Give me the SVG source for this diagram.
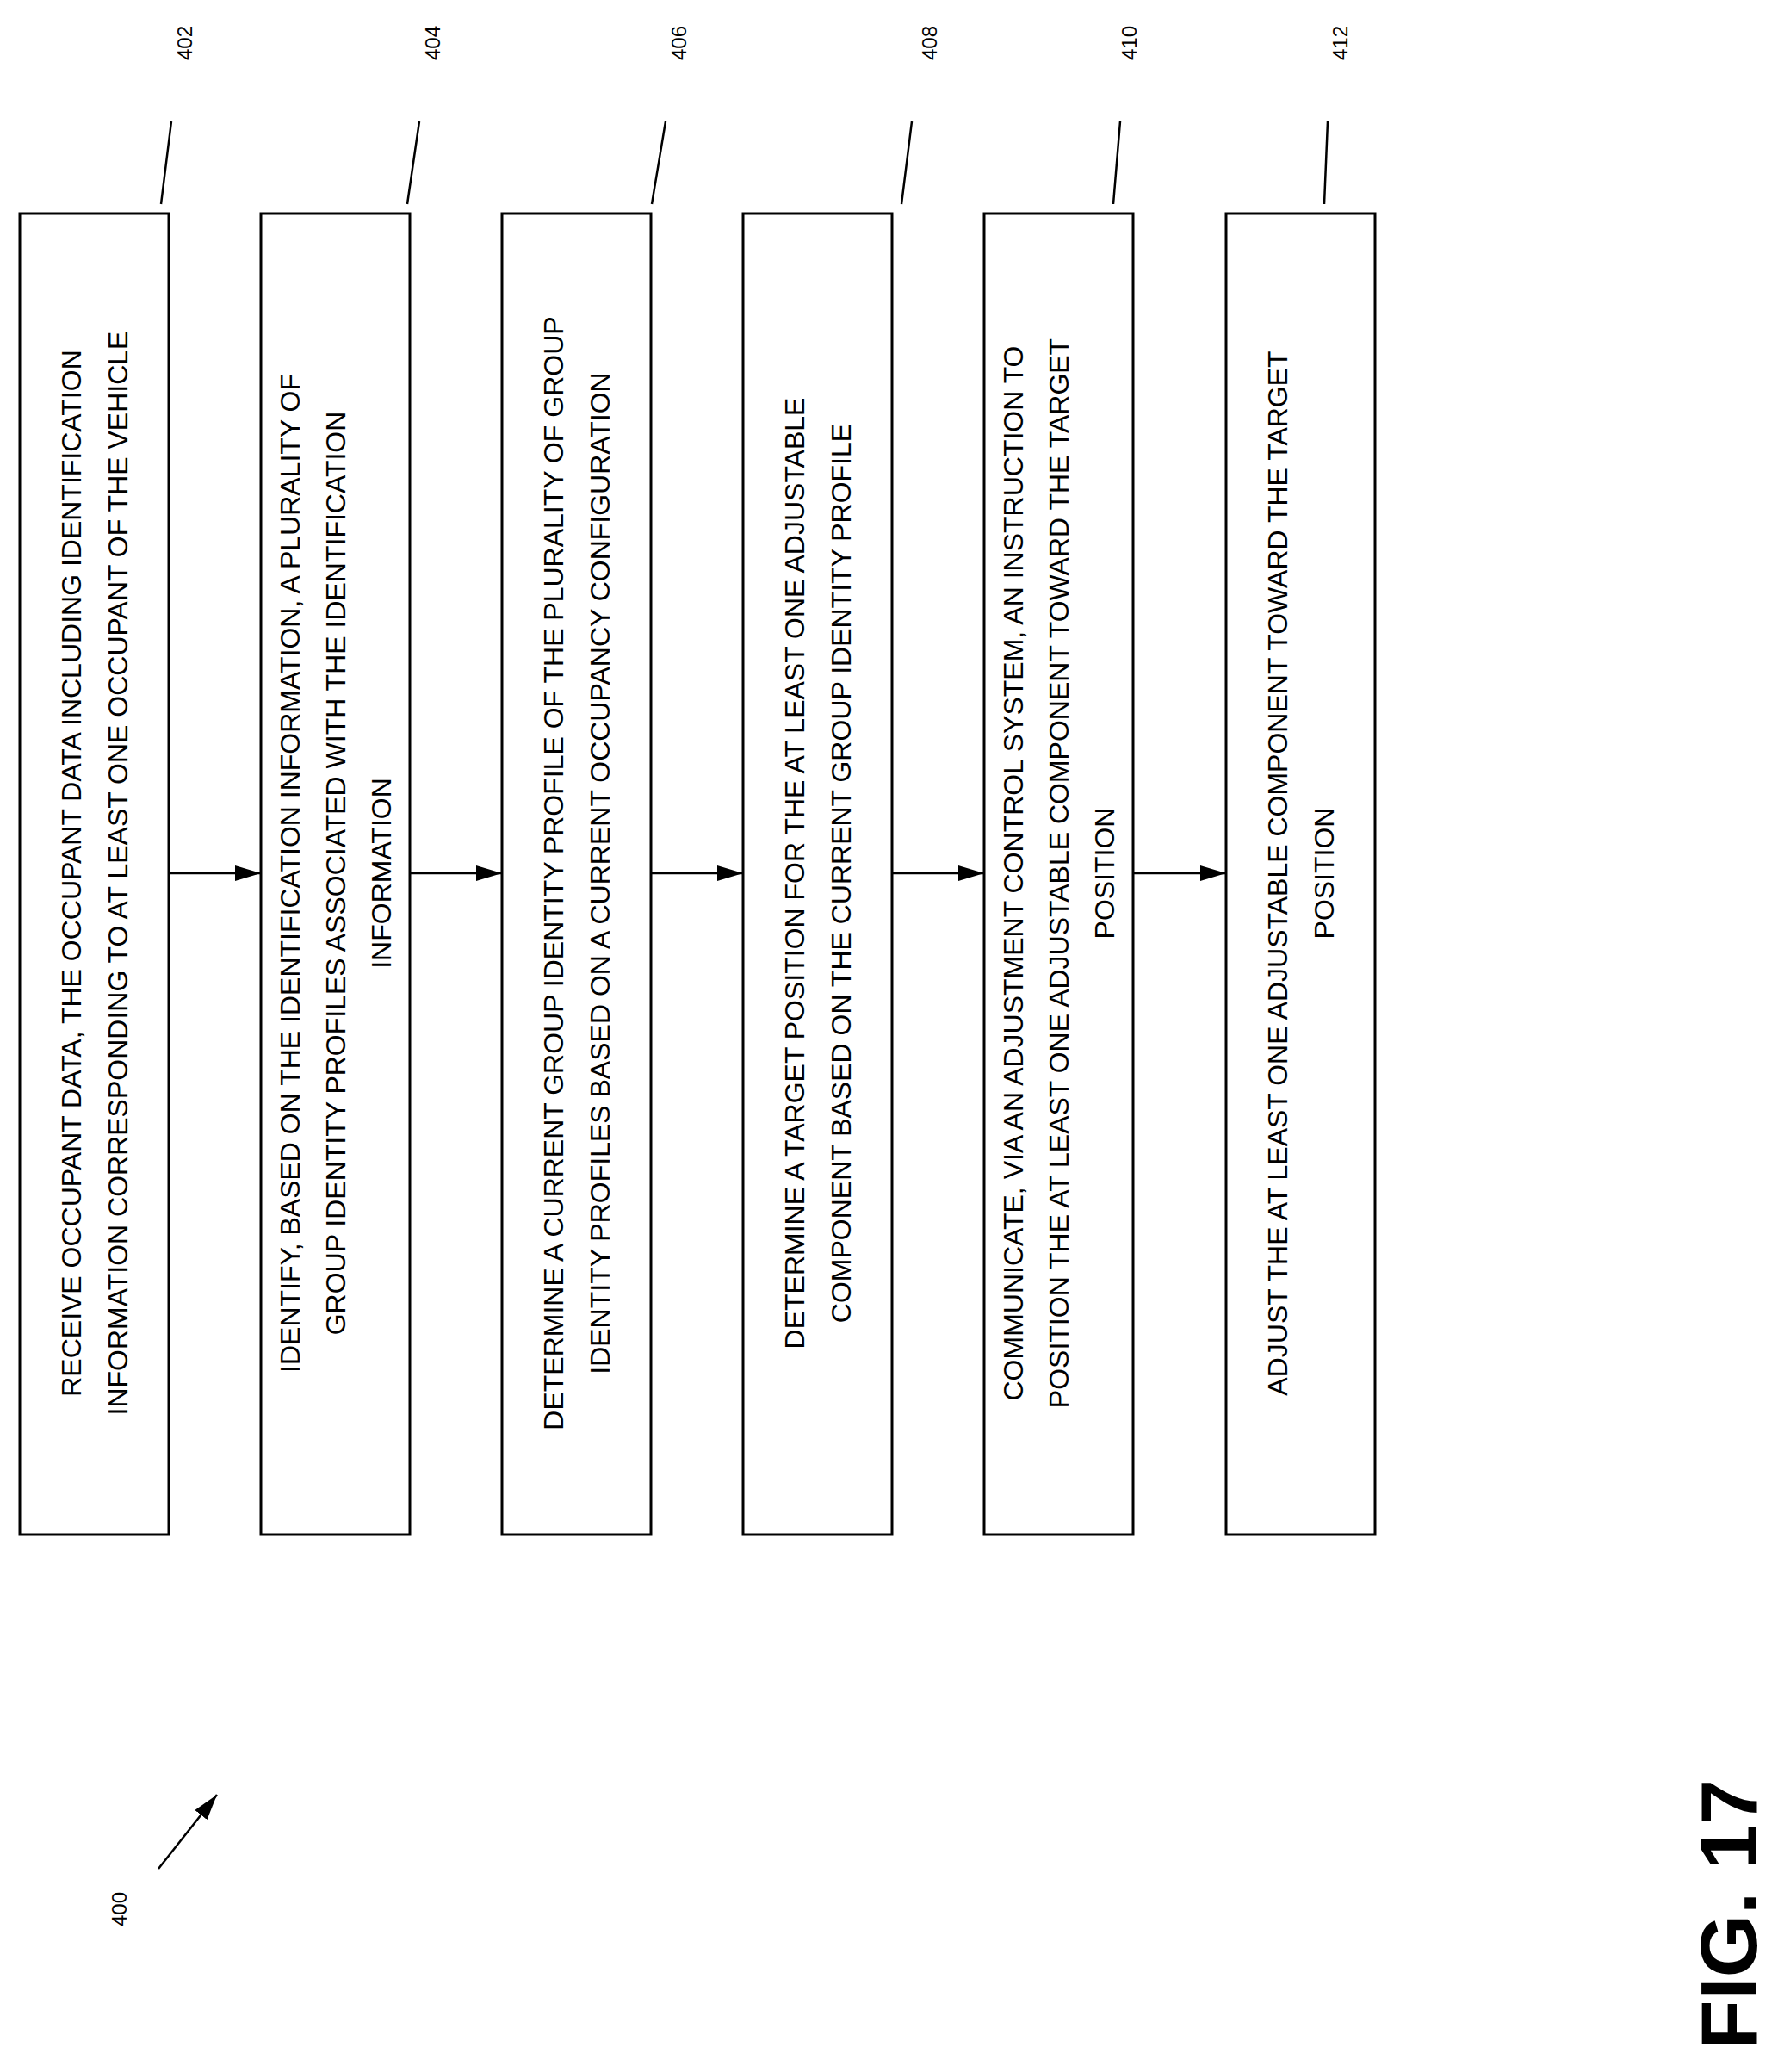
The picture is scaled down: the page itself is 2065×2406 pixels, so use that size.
<svg xmlns="http://www.w3.org/2000/svg" width="2065" height="2406" viewBox="0 0 2065 2406">
<defs>
<style>
.box{fill:#fff;stroke:#000;stroke-width:3}
.t{font-family:"Liberation Sans",Arial,sans-serif;font-size:32px;text-anchor:middle;dominant-baseline:central;fill:#000}
.ref{font-family:"Liberation Sans",Arial,sans-serif;font-size:24px;text-anchor:middle;dominant-baseline:central;fill:#000}
.ln{stroke:#000;stroke-width:2.5;fill:none}
</style>
<marker id="ah" markerWidth="12" markerHeight="10" refX="12" refY="5" orient="auto" markerUnits="userSpaceOnUse" viewBox="0 0 12 10"><path d="M0,0 L12,5 L0,10 Z" fill="#000"/></marker>
<marker id="ahb" markerWidth="30" markerHeight="18" refX="30" refY="9" orient="auto" markerUnits="userSpaceOnUse"><path d="M0,0 L30,9 L0,18 Z" fill="#000"/></marker>
</defs>
<rect width="2065" height="2406" fill="#fff"/>
<g id="n402">
<rect class="box" x="23" y="248" width="173" height="1534"/>
<text class="t" transform="translate(109.5,1014) rotate(-90)"><tspan x="0" y="-27">RECEIVE OCCUPANT DATA, THE OCCUPANT DATA INCLUDING IDENTIFICATION</tspan><tspan x="0" y="27">INFORMATION CORRESPONDING TO AT LEAST ONE OCCUPANT OF THE VEHICLE</tspan></text>
<line class="ln" x1="187" y1="237" x2="199" y2="141"/>
<text class="ref" transform="translate(214,50) rotate(-90)">402</text>
</g>
<g id="n404">
<rect class="box" x="303" y="248" width="173" height="1534"/>
<text class="t" transform="translate(389.5,1014) rotate(-90)"><tspan x="0" y="-53">IDENTIFY, BASED ON THE IDENTIFICATION INFORMATION, A PLURALITY OF</tspan><tspan x="0" y="0">GROUP IDENTITY PROFILES ASSOCIATED WITH THE IDENTIFICATION</tspan><tspan x="0" y="53">INFORMATION</tspan></text>
<line class="ln" x1="473" y1="237" x2="487" y2="141"/>
<text class="ref" transform="translate(502,50) rotate(-90)">404</text>
</g>
<g id="n406">
<rect class="box" x="583" y="248" width="173" height="1534"/>
<text class="t" transform="translate(669.5,1014) rotate(-90)"><tspan x="0" y="-27">DETERMINE A CURRENT GROUP IDENTITY PROFILE OF THE PLURALITY OF GROUP</tspan><tspan x="0" y="27">IDENTITY PROFILES BASED ON A CURRENT OCCUPANCY CONFIGURATION</tspan></text>
<line class="ln" x1="757" y1="237" x2="773" y2="141"/>
<text class="ref" transform="translate(788,50) rotate(-90)">406</text>
</g>
<g id="n408">
<rect class="box" x="863" y="248" width="173" height="1534"/>
<text class="t" transform="translate(949.5,1014) rotate(-90)"><tspan x="0" y="-27">DETERMINE A TARGET POSITION FOR THE AT LEAST ONE ADJUSTABLE</tspan><tspan x="0" y="27">COMPONENT BASED ON THE CURRENT GROUP IDENTITY PROFILE</tspan></text>
<line class="ln" x1="1047" y1="237" x2="1059" y2="141"/>
<text class="ref" transform="translate(1079,50) rotate(-90)">408</text>
</g>
<g id="n410">
<rect class="box" x="1143" y="248" width="173" height="1534"/>
<text class="t" transform="translate(1229.5,1014) rotate(-90)"><tspan x="0" y="-53">COMMUNICATE, VIA AN ADJUSTMENT CONTROL SYSTEM, AN INSTRUCTION TO</tspan><tspan x="0" y="0">POSITION THE AT LEAST ONE ADJUSTABLE COMPONENT TOWARD THE TARGET</tspan><tspan x="0" y="53">POSITION</tspan></text>
<line class="ln" x1="1293" y1="237" x2="1301" y2="141"/>
<text class="ref" transform="translate(1311,50) rotate(-90)">410</text>
</g>
<g id="n412">
<rect class="box" x="1424" y="248" width="173" height="1534"/>
<text class="t" transform="translate(1510.5,1014) rotate(-90)"><tspan x="0" y="-27">ADJUST THE AT LEAST ONE ADJUSTABLE COMPONENT TOWARD THE TARGET</tspan><tspan x="0" y="27">POSITION</tspan></text>
<line class="ln" x1="1538" y1="237" x2="1542" y2="141"/>
<text class="ref" transform="translate(1556,50) rotate(-90)">412</text>
</g>
<g id="connectors">
<line class="ln" x1="196" y1="1014" x2="303" y2="1014" marker-end="url(#ahb)"/>
<line class="ln" x1="476" y1="1014" x2="583" y2="1014" marker-end="url(#ahb)"/>
<line class="ln" x1="756" y1="1014" x2="863" y2="1014" marker-end="url(#ahb)"/>
<line class="ln" x1="1036" y1="1014" x2="1143" y2="1014" marker-end="url(#ahb)"/>
<line class="ln" x1="1316" y1="1014" x2="1424" y2="1014" marker-end="url(#ahb)"/>
<line class="ln" x1="184" y1="2170" x2="252" y2="2084" marker-end="url(#ahb)"/>
</g>
<g id="labels">
<text class="ref" transform="translate(138,2217) rotate(-90)">400</text>
<text transform="translate(2008,2223) rotate(-90)" font-family="Liberation Sans,Arial,sans-serif" font-weight="bold" font-size="92" text-anchor="middle" dominant-baseline="central" textLength="314" lengthAdjust="spacingAndGlyphs">FIG. 17</text>
</g>
</svg>
